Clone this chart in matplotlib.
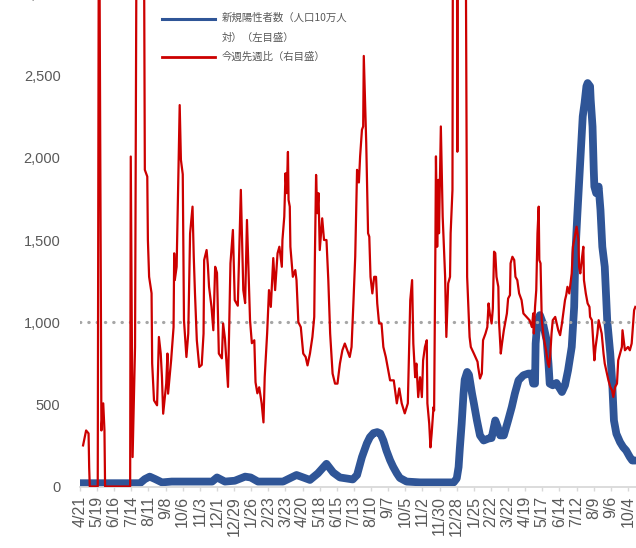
import numpy as np
import matplotlib
matplotlib.use("Agg")
import matplotlib.pyplot as plt
from matplotlib.lines import Line2D

# days counted from 2020-04-21
start = np.datetime64("2020-04-21")

blue_day = [0, 98, 106, 114, 123, 134, 150, 216, 224, 237, 253, 270, 279, 291, 332, 343, 354, 365, 376,
            389, 403, 414, 425, 446, 453, 461, 469, 474, 480, 486, 491, 496, 501, 507, 512, 518, 523, 534,
            556, 611, 616, 619, 621, 624, 627, 629, 633, 636, 641, 644, 649, 654, 660, 668, 673, 679, 683,
            687, 693, 700, 706, 711, 717, 725, 733, 738, 741, 744, 745, 748, 752, 757, 763, 766, 768, 773,
            779, 788, 793, 798, 804, 808, 810, 813, 816, 819, 822, 825, 828, 830, 834, 835, 838, 840, 841,
            844, 848, 851, 854, 858, 862, 867, 870, 873, 877, 883, 888, 893, 899, 903, 908]
blue_val = [20, 20, 45, 60, 45, 25, 30, 30, 55, 30, 35, 60, 55, 30, 30, 50, 70, 55, 40,
            80, 138, 85, 55, 43, 70, 179, 262, 300, 325, 331, 323, 280, 219, 160, 120, 80, 52, 30,
            25, 25, 49, 118, 230, 380, 560, 650, 697, 680, 565, 506, 402, 311, 280, 292, 295, 402, 362,
            311, 311, 402, 484, 565, 646, 677, 687, 687, 626, 626, 870, 1012, 1043, 992, 890, 748, 626, 616,
            630, 575, 616, 707, 849, 1093, 1419, 1642, 1846, 2049, 2252, 2334, 2435, 2455, 2435, 2354, 2191, 1927, 1825,
            1785, 1825, 1683, 1459, 1337, 1012, 809, 646, 402, 321, 270, 240, 219, 179, 158, 158]

red_day = [5, 10, 14, 15, 16, 29, 31, 35, 38, 40, 41, 82, 83, 86, 90, 93, 104, 106, 110, 111, 113, 117, 118,
           121, 126, 129, 132, 134, 136, 141, 143, 144, 149, 153, 154, 155, 158, 163, 165, 168, 170, 173, 174,
           177, 180, 184, 186, 188, 191, 195, 199, 202, 203, 207, 209, 211, 215, 218, 221, 224, 227, 232, 234,
           237, 242, 246, 250, 253, 258, 263, 267, 270, 273, 275, 278, 281, 285, 287, 290, 293, 297, 300, 302,
           306, 309, 312, 316, 319, 323, 326, 330, 331, 334, 336, 338, 340, 341, 343, 344, 348, 352, 354, 357,
           361, 365, 369, 372, 376, 380, 383, 384, 386, 388, 390, 392, 396, 399, 403, 406, 409, 413, 417, 421,
           425, 429, 433, 437, 441, 444, 447, 450, 453, 456, 458, 461, 463, 464, 468, 471, 473, 475, 478, 481,
           484, 486, 489, 493, 496, 500, 502, 507, 513, 518, 522, 526, 531, 536, 540, 543, 545, 548, 550, 553,
           556, 559, 561, 564, 567, 568, 571, 573, 575, 578, 579, 581, 582, 584, 586, 587, 590, 593, 597, 599,
           602, 605, 606, 609, 610, 616, 617, 618, 630, 633, 637, 639, 644, 650, 651, 654, 657, 659, 663, 666,
           668, 670, 673, 675, 677, 679, 681, 684, 685, 688, 690, 693, 698, 700, 703, 704, 707, 710, 712, 715,
           718, 722, 725, 730, 735, 737, 739, 741, 742, 744, 746, 748, 750, 751, 753, 755, 758, 762, 765, 767,
           769, 771, 773, 777, 782, 785, 788, 793, 795, 797, 800, 804, 806, 809, 812, 815, 816, 818, 821, 823,
           824, 827, 830, 833, 834, 837, 839, 841, 843, 846, 848, 853, 856, 858, 861, 864, 867, 870, 872, 875,
           878, 880, 883, 886, 887, 891, 896, 899, 902, 906, 908]
red_val = [250, 341, 323, 116, 0, 0, 4000, 341, 506, 341, 0, 0, 2008, 179, 850, 4000, 4000, 1927, 1886, 1500, 1276, 1176, 749,
           524, 494, 910, 809, 665, 443, 627, 809, 565, 768, 970, 1419, 1256, 1337, 2321, 1988, 1900, 1012, 850, 788,
           931, 1540, 1703, 1398, 1175, 890, 727, 740, 930, 1378, 1439, 1350, 1215, 1093, 951, 1337, 1300, 809, 780, 992,
           900, 606, 1358, 1561, 1134, 1100, 1805, 1195, 1116, 1622, 1378, 1012, 872, 890, 634, 567, 604, 506, 390, 665,
           933, 1195, 1093, 1390, 1195, 1419, 1459, 1337, 1500, 1642, 1906, 1785, 2036, 1744, 1703, 1459, 1276, 1317, 1256, 1000,
           970, 809, 788, 737, 809, 910, 1032, 1378, 1896, 1663, 1785, 1439, 1632, 1500, 1500, 1256, 931, 687, 626, 626,
           748, 829, 870, 829, 788, 849, 1114, 1398, 1927, 1850, 2009, 2171, 2191, 2620, 2090, 1541, 1520, 1276, 1175, 1276,
           1276, 1114, 992, 992, 849, 788, 748, 646, 646, 506, 597, 506, 445, 506, 1134, 1256, 870, 665, 748, 544,
           665, 544, 768, 849, 890, 506, 382, 238, 323, 483, 463, 1419, 2009, 1459, 1866, 1541, 2191, 1642, 1276, 910,
           1236, 1276, 1541, 1805, 4000, 4000, 2037, 4000, 4000, 1276, 910, 849, 809, 759, 727, 657, 687, 890, 931, 970,
           1114, 1053, 992, 1082, 1429, 1420, 1276, 1215, 1012, 809, 870, 951, 1053, 1144, 1165, 1358, 1398, 1378, 1276, 1256,
           1175, 1134, 1053, 1032, 1012, 992, 970, 1053, 931, 1093, 1195, 1541, 1703, 1378, 1358, 1012, 910, 829, 748, 727,
           809, 931, 1012, 1032, 951, 921, 992, 1134, 1165, 1215, 1175, 1297, 1459, 1520, 1581, 1500, 1337, 1297, 1398, 1459,
           1256, 1175, 1114, 1093, 1032, 1012, 890, 768, 849, 931, 1012, 931, 809, 748, 696, 646, 606, 585, 545, 606,
           626, 768, 809, 849, 951, 829, 849, 829, 870, 1073, 1093]

tick_labels = ["4/21", "5/19", "6/16", "7/14", "8/11", "9/8", "10/6", "11/3", "12/1", "12/29", "1/26",
               "2/23", "3/23", "4/20", "5/18", "6/15", "7/13", "8/10", "9/7", "10/5", "11/2", "11/30",
               "12/28", "1/25", "2/22", "3/22", "4/19", "5/17", "6/14", "7/12", "8/9", "9/6", "10/4"]

blue_c = "#2F5597"
red_c = "#CC0000"
grey = "#595959"

blue_x = start + np.array(blue_day).astype("timedelta64[D]")
red_x = start + np.array(red_day).astype("timedelta64[D]")
tick_x = start + (np.arange(len(tick_labels)) * 28).astype("timedelta64[D]")

fig = plt.figure(figsize=(6.36, 5.48), dpi=100)
ax = fig.add_axes([80/636, 61.5/548, 910*0.6116/636, 493/548])

ax.plot(blue_x, blue_val, color=blue_c, lw=5.6, solid_joinstyle="round", solid_capstyle="round")
ax.set_ylim(0, 3000)
ax.set_xlim(start, start + np.timedelta64(910, "D"))
ax.set_yticks(np.arange(0, 3001, 500))
ax.set_yticklabels([f"{v:,}" for v in range(0, 3001, 500)])
ax.set_xticks(tick_x)
ax.set_xticklabels(tick_labels, rotation=90)

for s in ["left", "top", "right"]:
    ax.spines[s].set_visible(False)
ax.spines["bottom"].set_color("#D9D9D9")
ax.spines["bottom"].set_linewidth(1.3)
ax.tick_params(axis="y", length=0, pad=14, labelsize=10.5, labelcolor=grey)
ax.tick_params(axis="x", length=3, width=1, color="#D9D9D9", pad=4, labelsize=11.5, labelcolor=grey)
for t in ax.get_xticklabels() + ax.get_yticklabels():
    t.set_fontfamily("Liberation Sans")

# right axis (ratio), off the picture
ax2 = ax.twinx()
ax2.set_ylim(0, 3.0)
ax2.axhline(1.0, color="#A6A6A6", lw=2.3, linestyle=(0, (0.1, 2.5)), dash_capstyle="round")
ax2.plot(red_x, np.array(red_val) / 1000, color=red_c, lw=1.6)
ax2.set_yticks([])
for s in ax2.spines.values():
    s.set_visible(False)

# legend
fig.add_artist(Line2D([162/636, 215/636], [1 - 19/548] * 2, transform=fig.transFigure, color=blue_c, lw=2.2))
fig.add_artist(Line2D([162/636, 215/636], [1 - 57/548] * 2, transform=fig.transFigure, color=red_c, lw=2.0))
lg = dict(fontsize=7.5, color=grey, va="center", ha="left", family=["Noto Sans CJK JP", "DejaVu Sans"])
fig.text(222/636, 1 - 18/548, "新規陽性者数（人口10万人", **lg)
fig.text(222/636, 1 - 38/548, "対）（左目盛）", **lg)
fig.text(222/636, 1 - 57/548, "今週先週比（右目盛）", **lg)

plt.savefig("out.png", dpi=100)
